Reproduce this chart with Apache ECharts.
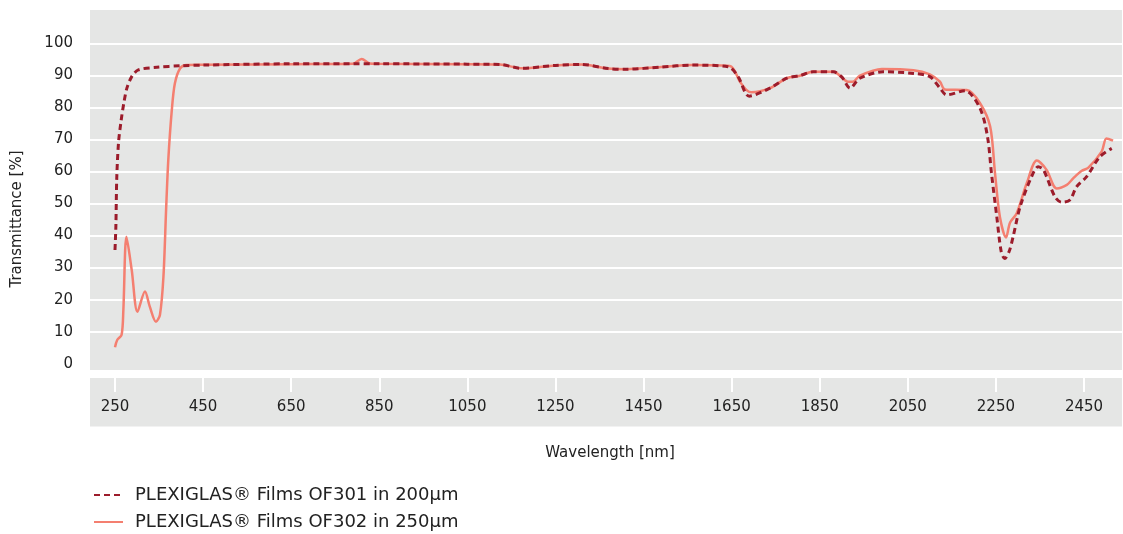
<!DOCTYPE html>
<html>
<head>
<meta charset="utf-8">
<script src="https://cdn.jsdelivr.net/npm/echarts@6/dist/echarts.min.js"></script>
<style>
html,body{margin:0;padding:0;background:#fff;}
#chart{width:1123px;height:534px;}
</style>
</head>
<body>
<div id="chart"></div>
<script>
// Data
var nameOF301 = 'PLEXIGLAS\u00AE Films OF301 in 200\u00B5m';
var nameOF302 = 'PLEXIGLAS\u00AE Films OF302 in 250\u00B5m';

var wl301 = [250,252,254,258,264,270,277,288,303,345,400,450,650,850,1050,1124,1173,1250,1310,1370,1410,1490,1560,1642,1665,1690,1737,1775,1805,1835,1881,1900,1919,1941,1994,2063,2100,2123,2138,2180,2214,2231,2240,2252,2262,2270,2280,2289,2305,2331,2346,2358,2384,2399,2418,2433,2456,2486,2513];
var t301  = [35.5,43,58,69,76,81.3,86,89.6,91.7,92.5,93,93.2,93.6,93.6,93.5,93.4,92.2,93.1,93.4,92.1,91.9,92.6,93.2,92.7,89.5,83.5,86,89.1,89.9,91.1,91.1,89.5,86,89.1,91.1,90.6,89.6,86,83.9,85.2,79.7,70.8,59.4,45.9,35,32.8,35,39.6,49,58.4,61.5,60.5,52.1,50.4,51.1,55.2,58.4,64.6,67.2];

var wl302 = [250,255,265,269,276,288,301,318,329,343,352,360,366,371,379,386,398,413,450,650,790,810,829,850,1050,1124,1173,1250,1310,1370,1410,1490,1560,1646,1669,1684,1695,1737,1775,1805,1835,1881,1915,1925,1941,1991,2063,2100,2123,2134,2184,2214,2237,2248,2259,2273,2282,2297,2320,2343,2365,2388,2411,2426,2445,2460,2490,2501,2516];
var t302  = [5.1,7.4,9,16.8,39.6,29.2,16.2,22.5,17.8,13.1,15.2,27.2,48,63.6,79.2,87.5,92.2,93.2,93.3,93.5,93.6,95.1,93.7,93.6,93.5,93.4,92.2,93.1,93.4,92.1,91.9,92.6,93.2,92.9,88,85.4,84.7,86,89.1,89.9,91.1,91.1,88,88,89.9,92,91.6,90.3,88,85.6,85.4,81.3,74,59.4,45.9,39.4,44,46.9,56.3,63.4,60.5,54.7,55.8,57.9,60.2,61.2,66.2,70.3,69.6];

// tick labels: 250 .. 2450 every 200 nm ; 0 .. 100 every 10 %
var xTickStart = 250, xTickEnd = 2450, xTickStep = 200;
var yTickStart = 0, yTickEnd = 100, yTickStep = 10;

function pairs(xs, ys){ return xs.map(function(x,i){ return [x, ys[i]]; }); }

var FONT = '"DejaVu Sans", "Noto Sans", sans-serif';
var GREY = '#e5e6e5';
var PX_PER_NM = 0.44045;
var XMIN = xTickStart - 25/PX_PER_NM;
var XMAX = xTickStart + 1007/PX_PER_NM;

var legendText = {fontSize:18, color:'#222', fontFamily:FONT, padding:[0,0,0,7]};

var chart = echarts.init(document.getElementById('chart'), null, {renderer:'canvas'});
chart.setOption({
  animation: false,
  textStyle: {fontFamily: FONT, color: '#222'},
  graphic: {
    elements: [
      {type:'text', z:10, x:17, y:219, rotation:Math.PI/2, style:{text:'Transmittance [%]', fill:'#222', font:'15px ' + FONT, align:'center', verticalAlign:'middle'}},
      {type:'text', z:10, x:610, y:453, style:{text:'Wavelength [nm]', fill:'#222', font:'15px ' + FONT, align:'center', verticalAlign:'middle'}}
    ]
  },
  grid: [
    {left:90, right:1, top:43.3, bottom:170.3, containLabel:false},                        // plot
    {left:90, right:1, top:10, height:360, show:true, backgroundColor:GREY, borderWidth:0},  // plot background
    {left:90, right:1, top:378, height:48.5, show:true, backgroundColor:GREY, borderWidth:0},// axis band background
    {left:115, width:(xTickEnd - xTickStart)*PX_PER_NM, top:378, height:14}                 // tick marks + labels
  ],
  xAxis: [
    {
      type:'value', gridIndex:0, min: XMIN, max: XMAX,
      axisLine:{show:false}, axisTick:{show:false}, axisLabel:{show:false}, splitLine:{show:false}
    },
    {
      type:'value', gridIndex:3, position:'bottom', min: xTickStart, max: xTickEnd, interval: xTickStep,
      axisLine: {show:false},
      axisTick: {show:false},
      axisLabel: {show:true, margin:8, fontSize:15, color:'#222', fontFamily:FONT,
                  formatter: function(v){ return String(v); }},
      splitLine: {show:true, showMinLine:true, showMaxLine:true, lineStyle:{color:'#ffffff', width:2}}
    }
  ],
  yAxis: [
    {
      type:'value', gridIndex:0,
      min: yTickStart, max: yTickEnd, interval: yTickStep,
      axisLine: {show:false},
      axisTick: {show:false},
      axisLabel: {margin:17, fontSize:15, color:'#222', fontFamily:FONT},
      splitLine: {show:true, showMinLine:false, showMaxLine:true, lineStyle:{color:'#fff', width:2}}
    },
    { type:'value', gridIndex:3, min:0, max:1, show:false }
  ],
  legend: [
    {
      left:93, top:486, padding:0, itemWidth:29, itemHeight:14,
      itemStyle:{opacity:0, borderWidth:0}, textStyle:legendText, data:[nameOF301]
    },
    {
      left:93, top:513, padding:0, itemWidth:29, itemHeight:14,
      itemStyle:{opacity:0, borderWidth:0}, textStyle:legendText, data:[nameOF302]
    }
  ],
  series: [
    {
      name: nameOF301, type:'line', xAxisIndex:0, yAxisIndex:0, data: pairs(wl301, t301),
      symbol:'none', smooth:0.3, z:3,
      lineStyle:{color:'#9c1c2b', width:3, type:[6,4]},
      itemStyle:{color:'#9c1c2b'}
    },
    {
      name: nameOF302, type:'line', xAxisIndex:0, yAxisIndex:0, data: pairs(wl302, t302),
      symbol:'none', smooth:0.3, z:2,
      lineStyle:{color:'#f47f70', width:2.5},
      itemStyle:{color:'#f47f70'}
    }
  ]
});
</script>
</body>
</html>
